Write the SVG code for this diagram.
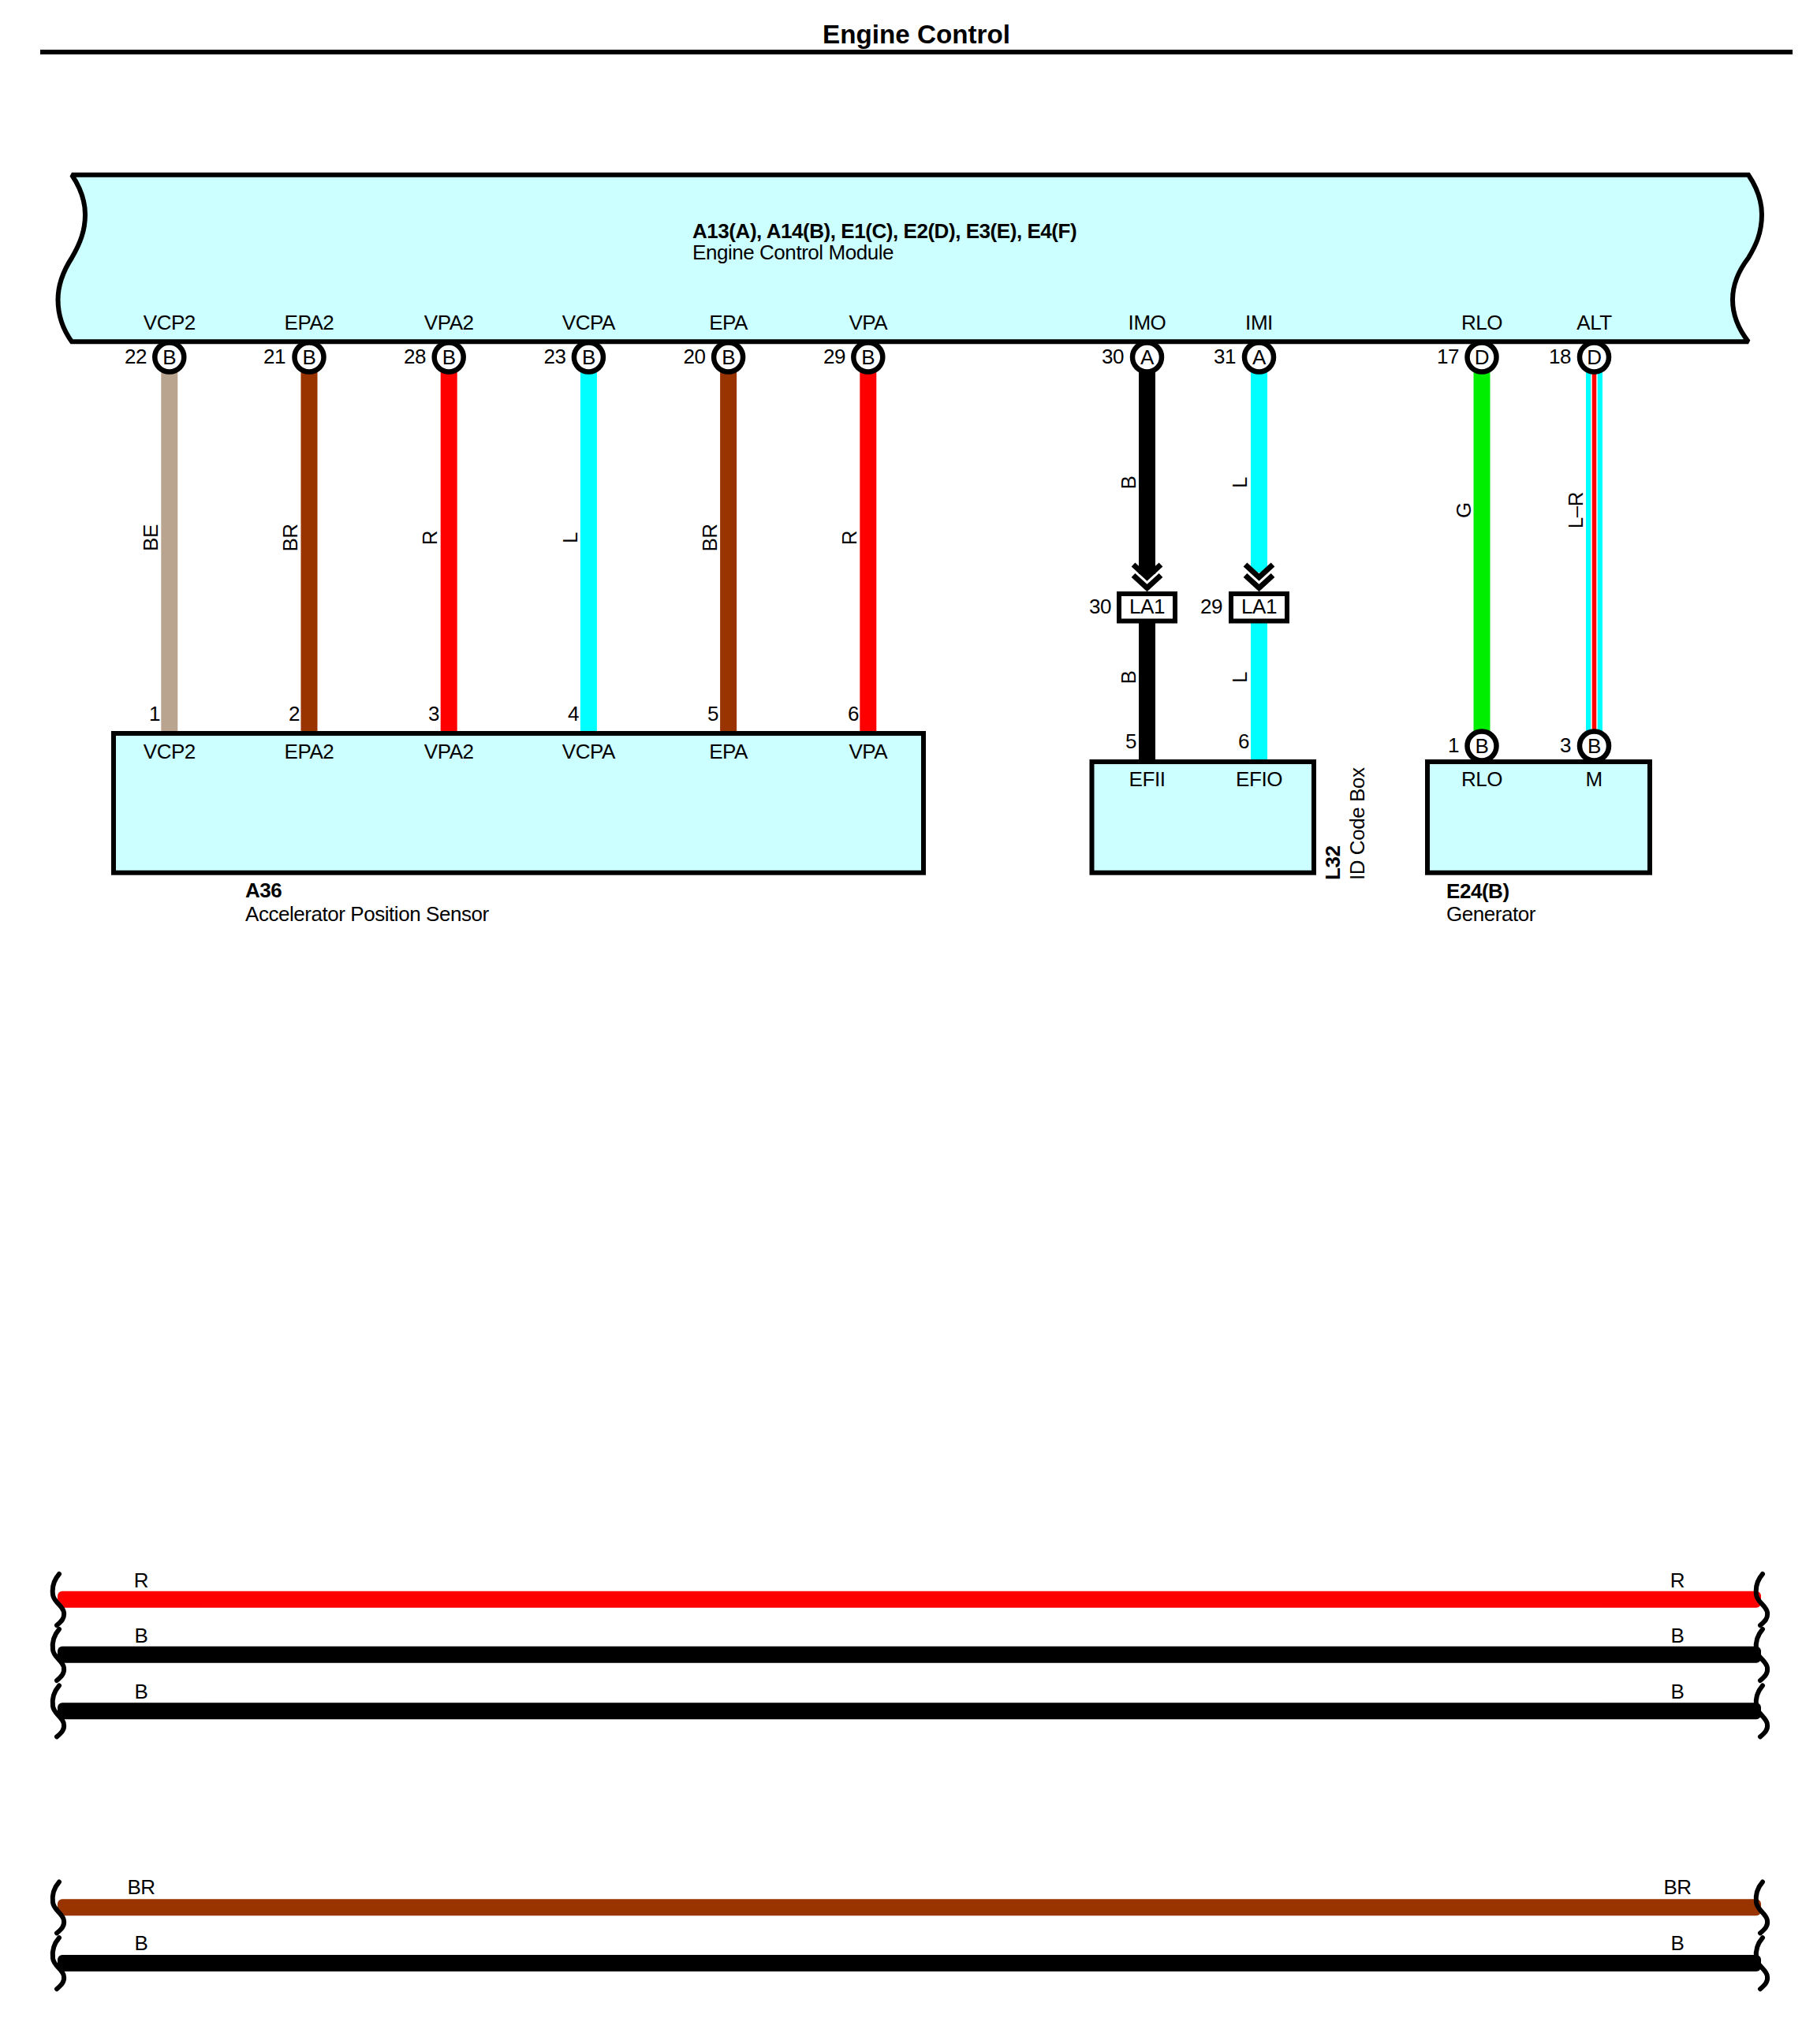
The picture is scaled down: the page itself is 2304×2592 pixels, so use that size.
<svg xmlns="http://www.w3.org/2000/svg" xmlns:xlink="http://www.w3.org/1999/xlink" width="2304" height="2592" viewBox="0 0 2304 2592">
<style>
text{font-family:"Liberation Sans",Arial,sans-serif;font-size:26px;letter-spacing:-0.45px;fill:#000}
.b{font-weight:bold}
.c{text-anchor:middle}
.e{text-anchor:end}
.box{fill:#CCFFFF;stroke:#000;stroke-width:6;stroke-linejoin:miter;stroke-miterlimit:2}
.pin{fill:#fff;stroke:#000;stroke-width:6.5}
.conn{fill:#fff;stroke:#000;stroke-width:6}
.w{stroke-width:21;fill:none}
.chev{fill:none;stroke:#000;stroke-width:7;stroke-linejoin:miter}
.sq{fill:none;stroke:#000;stroke-width:6;stroke-linecap:round}
</style>
<defs>
<path id="sq" class="sq" d="M0,-32 C-7,-24 -9,-14 -8,-6 C-7,4 5,8 6,17 C7,24 3,28 -3,33"/>
</defs>
<rect width="2304" height="2592" fill="#fff"/>
<g id="title">
<text class="b c" x="1162" y="54.5" style="font-size:33.2px;letter-spacing:0">Engine Control</text>
<rect x="51" y="63" width="2222" height="6" fill="#000"/>
</g>
<g id="connectors">
<line class="w" stroke="#B8A48F" x1="214.8" y1="472" x2="214.8" y2="927"/>
<line class="w" stroke="#993300" x1="392" y1="472" x2="392" y2="927"/>
<line class="w" stroke="#FF0000" x1="569.2" y1="472" x2="569.2" y2="927"/>
<line class="w" stroke="#00FFFF" x1="746.4" y1="472" x2="746.4" y2="927"/>
<line class="w" stroke="#993300" x1="923.6" y1="472" x2="923.6" y2="927"/>
<line class="w" stroke="#FF0000" x1="1100.8" y1="472" x2="1100.8" y2="927"/>
<line class="w" stroke="#000" x1="1454.5" y1="472" x2="1454.5" y2="728"/>
<line class="w" stroke="#00FFFF" x1="1596.5" y1="472" x2="1596.5" y2="726"/>
<line class="w" stroke="#000" x1="1454.5" y1="788" x2="1454.5" y2="964"/>
<line class="w" stroke="#00FFFF" x1="1596.5" y1="788" x2="1596.5" y2="964"/>
<line class="w" stroke="#00EE00" x1="1879" y1="472" x2="1879" y2="930"/>
<line class="w" stroke="#00FFFF" x1="2021.5" y1="472" x2="2021.5" y2="930"/>
<line stroke="#fff" stroke-width="8.5" x1="2021.5" y1="472" x2="2021.5" y2="930"/>
<line stroke="#FF0000" stroke-width="5.5" x1="2021.5" y1="472" x2="2021.5" y2="930"/>
<polyline class="chev" points="1437,716 1454.5,732 1472,716"/>
<polyline class="chev" points="1437,729.5 1454.5,745.5 1472,729.5"/>
<polyline class="chev" points="1579,716 1596.5,732 1614,716"/>
<polyline class="chev" points="1579,729.5 1596.5,745.5 1614,729.5"/>
<g id="wire-labels">
<text class="c" transform="translate(200 682) rotate(-90)">BE</text>
<text class="c" transform="translate(377 682) rotate(-90)">BR</text>
<text class="c" transform="translate(554 682) rotate(-90)">R</text>
<text class="c" transform="translate(731.5 682) rotate(-90)">L</text>
<text class="c" transform="translate(908.5 682) rotate(-90)">BR</text>
<text class="c" transform="translate(1085.5 682) rotate(-90)">R</text>
<text class="c" transform="translate(1440 612) rotate(-90)">B</text>
<text class="c" transform="translate(1581 612) rotate(-90)">L</text>
<text class="c" transform="translate(1440 859) rotate(-90)">B</text>
<text class="c" transform="translate(1581 859) rotate(-90)">L</text>
<text class="c" transform="translate(1865 647) rotate(-90)">G</text>
<text class="c" transform="translate(2007 647) rotate(-90)">L–R</text>
</g>
<g id="bus">
<rect x="73" y="2017.8" width="2160" height="21" rx="6" fill="#FF0000"/>
<rect x="73" y="2087.8" width="2160" height="21" rx="6" fill="#000"/>
<rect x="73" y="2159.2" width="2160" height="21" rx="6" fill="#000"/>
<rect x="73" y="2408.2" width="2160" height="21" rx="6" fill="#993300"/>
<rect x="73" y="2479" width="2160" height="21" rx="6" fill="#000"/>
<use xlink:href="#sq" href="#sq" x="75" y="2028"/><use xlink:href="#sq" href="#sq" x="2235" y="2028"/>
<use xlink:href="#sq" href="#sq" x="75" y="2098"/><use xlink:href="#sq" href="#sq" x="2235" y="2098"/>
<use xlink:href="#sq" href="#sq" x="75" y="2169.4"/><use xlink:href="#sq" href="#sq" x="2235" y="2169.4"/>
<use xlink:href="#sq" href="#sq" x="75" y="2418.4"/><use xlink:href="#sq" href="#sq" x="2235" y="2418.4"/>
<use xlink:href="#sq" href="#sq" x="75" y="2489.2"/><use xlink:href="#sq" href="#sq" x="2235" y="2489.2"/>
<text class="c" x="179" y="2012.5">R</text><text class="c" x="2127" y="2012.5">R</text>
<text class="c" x="179" y="2083">B</text><text class="c" x="2127" y="2083">B</text>
<text class="c" x="179" y="2154">B</text><text class="c" x="2127" y="2154">B</text>
<text class="c" x="179" y="2402">BR</text><text class="c" x="2127" y="2402">BR</text>
<text class="c" x="179" y="2473">B</text><text class="c" x="2127" y="2473">B</text>
</g>
</g>
<g id="pins-top">
<circle class="pin" cx="214.8" cy="453" r="18.5"/><text class="c" x="214.8" y="461.5">B</text><text class="e" x="186" y="461">22</text>
<circle class="pin" cx="392" cy="453" r="18.5"/><text class="c" x="392" y="461.5">B</text><text class="e" x="362" y="461">21</text>
<circle class="pin" cx="569.2" cy="453" r="18.5"/><text class="c" x="569.2" y="461.5">B</text><text class="e" x="540" y="461">28</text>
<circle class="pin" cx="746.4" cy="453" r="18.5"/><text class="c" x="746.4" y="461.5">B</text><text class="e" x="717.5" y="461">23</text>
<circle class="pin" cx="923.6" cy="453" r="18.5"/><text class="c" x="923.6" y="461.5">B</text><text class="e" x="894.5" y="461">20</text>
<circle class="pin" cx="1100.8" cy="453" r="18.5"/><text class="c" x="1100.8" y="461.5">B</text><text class="e" x="1072" y="461">29</text>
<circle class="pin" cx="1454.5" cy="453" r="18.5"/><text class="c" x="1454.5" y="461.5">A</text><text class="e" x="1425" y="461">30</text>
<circle class="pin" cx="1596.5" cy="453" r="18.5"/><text class="c" x="1596.5" y="461.5">A</text><text class="e" x="1567" y="461">31</text>
<circle class="pin" cx="1879" cy="453" r="18.5"/><text class="c" x="1879" y="461.5">D</text><text class="e" x="1850" y="461">17</text>
<circle class="pin" cx="2021.5" cy="453" r="18.5"/><text class="c" x="2021.5" y="461.5">D</text><text class="e" x="1992" y="461">18</text>
</g>
<g id="ecm">
<path class="box" d="M91,221.7 H2217 C2228,238 2234,254 2234,272 C2234,296 2226,312 2217,327 C2204,344 2197,360 2197,380 C2197,400 2205,418 2217,433.3 H91 C80,418 73.5,400 73.5,380 C73.5,360 80,344 91,327 C102,308 108,292 108,272 C108,254 102,238 91,221.7 Z"/>
<text class="b" x="878" y="301.5">A13(A), A14(B), E1(C), E2(D), E3(E), E4(F)</text>
<text x="878" y="329">Engine Control Module</text>
<text class="c" x="214.8" y="418">VCP2</text>
<text class="c" x="392" y="418">EPA2</text>
<text class="c" x="569.2" y="418">VPA2</text>
<text class="c" x="746.4" y="418">VCPA</text>
<text class="c" x="923.6" y="418">EPA</text>
<text class="c" x="1100.8" y="418">VPA</text>
<text class="c" x="1454.5" y="418">IMO</text>
<text class="c" x="1596.5" y="418">IMI</text>
<text class="c" x="1879" y="418">RLO</text>
<text class="c" x="2021.5" y="418">ALT</text>
</g>
<g id="a36">
<rect class="box" x="144" y="930" width="1027" height="176.7"/>
<text class="c" x="214.8" y="961.5">VCP2</text>
<text class="c" x="392" y="961.5">EPA2</text>
<text class="c" x="569.2" y="961.5">VPA2</text>
<text class="c" x="746.4" y="961.5">VCPA</text>
<text class="c" x="923.6" y="961.5">EPA</text>
<text class="c" x="1100.8" y="961.5">VPA</text>
<text class="e" x="203" y="914">1</text>
<text class="e" x="380" y="914">2</text>
<text class="e" x="557" y="914">3</text>
<text class="e" x="734" y="914">4</text>
<text class="e" x="911" y="914">5</text>
<text class="e" x="1089" y="914">6</text>
<text class="b" x="311" y="1138">A36</text>
<text x="311" y="1168">Accelerator Position Sensor</text>
</g>
<g id="la1-30">
<rect class="conn" x="1419" y="753" width="71" height="34.5"/>
<text class="c" x="1454.5" y="778">LA1</text>
<text class="e" x="1409" y="778">30</text>
</g>
<g id="la1-29">
<rect class="conn" x="1561" y="753" width="71" height="34.5"/>
<text class="c" x="1596.5" y="778">LA1</text>
<text class="e" x="1550" y="778">29</text>
</g>
<g id="l32">
<rect class="box" x="1384.5" y="966" width="281.5" height="140.7"/>
<text class="c" x="1454.5" y="997">EFII</text>
<text class="c" x="1596.5" y="997">EFIO</text>
<text class="e" x="1441" y="949">5</text>
<text class="e" x="1584" y="949">6</text>
<text class="b" transform="translate(1699 1116) rotate(-90)">L32</text>
<text transform="translate(1729.5 1116) rotate(-90)">ID Code Box</text>
</g>
<g id="e24">
<circle class="pin" cx="1879" cy="946" r="18.5"/><text class="c" x="1879" y="954.5">B</text>
<circle class="pin" cx="2021.5" cy="946" r="18.5"/><text class="c" x="2021.5" y="954.5">B</text>
<rect class="box" x="1810" y="966" width="282" height="140.7"/>
<text class="c" x="1879" y="997">RLO</text>
<text class="c" x="2021" y="997">M</text>
<text class="e" x="1850" y="954">1</text>
<text class="e" x="1992" y="954">3</text>
<text class="b" x="1834" y="1139">E24(B)</text>
<text x="1834" y="1168">Generator</text>
</g>
</svg>
